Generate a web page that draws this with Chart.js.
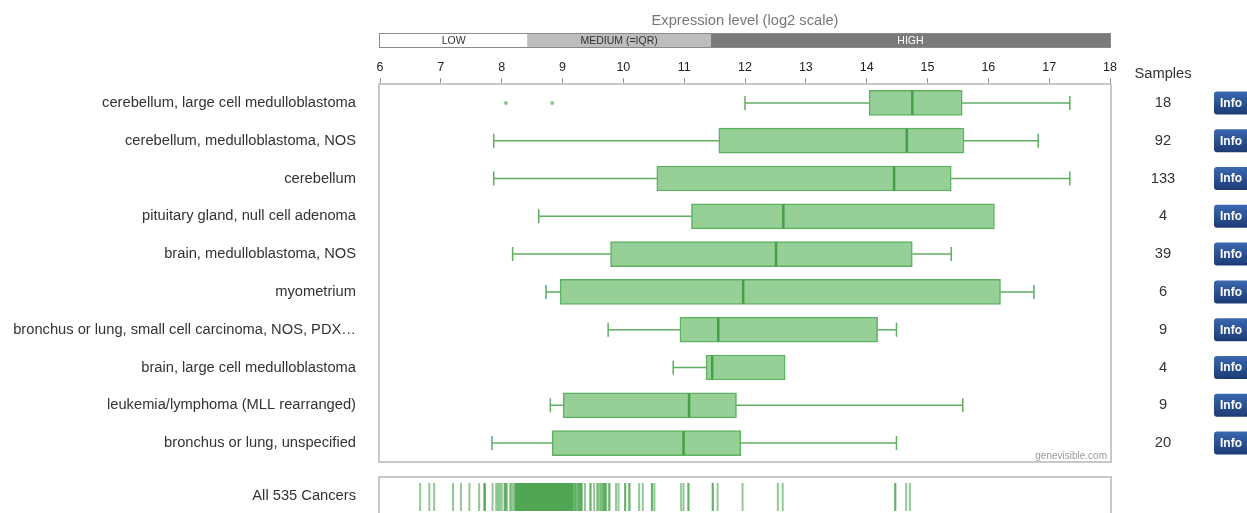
<!DOCTYPE html>
<html>
<head>
<meta charset="utf-8">
<title>Expression level by tissue</title>
<script src="https://cdn.jsdelivr.net/npm/chart.js@4/dist/chart.umd.min.js"></script>
<style>
  html, body { margin: 0; padding: 0; background: #fff; overflow: hidden; }
  #wrap { position: relative; width: 1247px; height: 513px; overflow: hidden; }
  #main { position: absolute; left: 0; top: 0; }
  #strip { position: absolute; left: 0; top: 470px; }
</style>
</head>
<body>
<div id="wrap">
  <canvas id="main" width="1247" height="470"></canvas>
  <canvas id="strip" width="1247" height="50"></canvas>
</div>
<script>
// Box plot data (log2 expression), one entry per tissue / cancer type
const categories = [
  'cerebellum, large cell medulloblastoma',
  'cerebellum, medulloblastoma, NOS',
  'cerebellum',
  'pituitary gland, null cell adenoma',
  'brain, medulloblastoma, NOS',
  'myometrium',
  'bronchus or lung, small cell carcinoma, NOS, PDX\u2026',
  'brain, large cell medulloblastoma',
  'leukemia/lymphoma (MLL rearranged)',
  'bronchus or lung, unspecified'
];
const whiskerLow  = [12.00, 7.87, 7.87, 8.61, 8.18, 8.73, 9.75, 10.82, 8.80, 7.84];
const q1          = [14.04, 11.57, 10.55, 11.12, 9.79, 8.96, 10.93, 11.36, 9.01, 8.83];
const median      = [14.75, 14.66, 14.45, 12.63, 12.51, 11.97, 11.56, 11.46, 11.08, 10.99];
const q3          = [15.57, 15.60, 15.39, 16.10, 14.75, 16.20, 14.18, 12.66, 11.86, 11.93];
const whiskerHigh = [17.34, 16.82, 17.34, 16.10, 15.39, 16.75, 14.49, 12.66, 15.58, 14.49];
const outliers    = [[8.07, 8.83], [], [], [], [], [], [], [], [], []];
const sampleCounts = [18, 92, 133, 4, 39, 6, 9, 4, 9, 20];

// Axis range and expression bands
const axisMin = 6;
const axisMax = 18;
const bandLabels = ['LOW', 'MEDIUM (=IQR)', 'HIGH'];
const bandEdges = [6, 8.42, 11.44, 18];

// Median expression of every cancer type (rug strip)
const allCancerMedians = [
  6.66, 6.81, 6.89, 7.20, 7.33, 7.47, 7.63, 7.72, 7.72, 7.72,
  7.85, 7.91, 7.94, 7.97, 8.00, 8.05, 8.05, 8.08, 8.08, 8.14, 8.16, 8.19,
  8.22, 8.23, 8.24, 8.25, 8.26, 8.27, 8.28, 8.29, 8.30, 8.31, 8.32, 8.33, 8.34, 8.35,
  8.36, 8.37, 8.38, 8.39, 8.40, 8.41, 8.42, 8.43, 8.44, 8.45, 8.46, 8.47, 8.48, 8.49,
  8.50, 8.51, 8.52, 8.53, 8.54, 8.55, 8.56, 8.57, 8.58, 8.59, 8.60, 8.61, 8.62, 8.63,
  8.64, 8.65, 8.66, 8.67, 8.68, 8.69, 8.70, 8.71, 8.72, 8.73, 8.74, 8.75, 8.76, 8.77,
  8.78, 8.79, 8.80, 8.81, 8.82, 8.83, 8.84, 8.85, 8.86, 8.87, 8.88, 8.89, 8.90, 8.91,
  8.92, 8.93, 8.94, 8.95, 8.96, 8.97, 8.98, 8.99, 9.00, 9.01, 9.02, 9.03, 9.04, 9.05,
  9.06, 9.07, 9.08, 9.09, 9.10, 9.11, 9.12, 9.13, 9.14, 9.15, 9.16, 9.17, 9.18,
  9.21, 9.21, 9.23, 9.26, 9.26, 9.28, 9.30, 9.30, 9.32,
  9.37, 9.46, 9.46, 9.52, 9.57, 9.59, 9.62, 9.64, 9.67, 9.67, 9.70, 9.70, 9.72,
  9.77, 9.77, 9.88, 9.92, 10.03, 10.03, 10.10, 10.10, 10.26, 10.32, 10.47, 10.47,
  10.51, 10.95, 10.99, 11.07, 11.07, 11.47, 11.47, 11.55, 11.96, 12.54, 12.62,
  14.47, 14.47, 14.65, 14.71
];

const FONT = "'Liberation Sans', Arial, sans-serif";
const GREEN = '#43a047';
const LABEL_SIZE = 14.7;

const boxWhiskers = {
  id: 'boxWhiskers',
  beforeDraw(chart) {
    const ctx = chart.ctx;
    const xs = chart.scales.x;
    ctx.save();
    // axis title
    ctx.fillStyle = '#777';
    ctx.font = LABEL_SIZE + 'px ' + FONT;
    ctx.textAlign = 'center';
    ctx.textBaseline = 'middle';
    const mid = (xs.getPixelForValue(axisMin) + xs.getPixelForValue(axisMax)) / 2;
    ctx.fillText('Expression level (log2 scale)', mid, 21);
    // expression bands
    const fills = ['#ffffff', '#bdbdbd', '#7a7a7a'];
    const texts = ['#333', '#333', '#fff'];
    const top = 33, h = 15;
    for (let i = 0; i < bandLabels.length; i++) {
      const a = xs.getPixelForValue(bandEdges[i]);
      const b = xs.getPixelForValue(bandEdges[i + 1]);
      ctx.fillStyle = fills[i];
      ctx.fillRect(a, top, b - a, h);
      ctx.fillStyle = texts[i];
      ctx.font = '10.5px ' + FONT;
      ctx.fillText(bandLabels[i], (a + b) / 2, top + h / 2 + 0.5);
    }
    ctx.strokeStyle = '#8a8a8a';
    ctx.lineWidth = 1;
    const l = xs.getPixelForValue(bandEdges[0]);
    const r = xs.getPixelForValue(bandEdges[bandEdges.length - 1]);
    ctx.strokeRect(l - 0.5, top + 0.5, r - l + 1, h - 1);
    ctx.restore();
  },
  afterDatasetsDraw(chart) {
    const ctx = chart.ctx;
    const xs = chart.scales.x;
    const ys = chart.scales.y;
    const area = chart.chartArea;
    ctx.save();
    for (let i = 0; i < categories.length; i++) {
      const y = ys.getPixelForValue(i);
      const pLow = xs.getPixelForValue(whiskerLow[i]);
      const pQ1 = xs.getPixelForValue(q1[i]);
      const pQ3 = xs.getPixelForValue(q3[i]);
      const pHigh = xs.getPixelForValue(whiskerHigh[i]);
      ctx.strokeStyle = 'rgba(67,160,71,0.85)';
      ctx.lineWidth = 1.5;
      if (whiskerLow[i] < q1[i]) {
        ctx.beginPath();
        ctx.moveTo(pLow, y); ctx.lineTo(pQ1, y);
        ctx.moveTo(pLow, y - 7); ctx.lineTo(pLow, y + 7);
        ctx.stroke();
      }
      if (whiskerHigh[i] > q3[i]) {
        ctx.beginPath();
        ctx.moveTo(pQ3, y); ctx.lineTo(pHigh, y);
        ctx.moveTo(pHigh, y - 7); ctx.lineTo(pHigh, y + 7);
        ctx.stroke();
      }
      // median
      const pMed = xs.getPixelForValue(median[i]);
      ctx.strokeStyle = GREEN;
      ctx.lineWidth = 2.5;
      ctx.beginPath();
      ctx.moveTo(pMed, y - 12); ctx.lineTo(pMed, y + 12);
      ctx.stroke();
      // outliers
      ctx.fillStyle = 'rgba(67,160,71,0.6)';
      for (const v of outliers[i]) {
        ctx.beginPath();
        ctx.arc(xs.getPixelForValue(v), y, 2, 0, Math.PI * 2);
        ctx.fill();
      }
      // sample counts
      ctx.fillStyle = '#333';
      ctx.font = LABEL_SIZE + 'px ' + FONT;
      ctx.textAlign = 'center';
      ctx.textBaseline = 'middle';
      ctx.fillText(String(sampleCounts[i]), 1163, y);
      // info button
      const bx = 1214, by = y - 11.5, bw = 36, bh = 23;
      const g = ctx.createLinearGradient(0, by, 0, by + bh);
      g.addColorStop(0, '#3a68b0');
      g.addColorStop(1, '#1c3b74');
      ctx.fillStyle = g;
      ctx.beginPath();
      ctx.roundRect(bx, by, bw, bh, 3);
      ctx.fill();
      ctx.fillStyle = '#fff';
      ctx.font = 'bold 12px ' + FONT;
      ctx.fillText('Info', bx + 17, y + 0.5);
    }
    // plot frame
    ctx.strokeStyle = '#c8c8c8';
    ctx.lineWidth = 2;
    ctx.strokeRect(area.left - 1, area.top, area.right - area.left + 2, area.bottom - area.top);
    // column header
    ctx.fillStyle = '#333';
    ctx.font = LABEL_SIZE + 'px ' + FONT;
    ctx.textAlign = 'center';
    ctx.textBaseline = 'middle';
    ctx.fillText('Samples', 1163, 74);
    // watermark
    ctx.fillStyle = '#999';
    ctx.font = '10px ' + FONT;
    ctx.textAlign = 'right';
    ctx.textBaseline = 'alphabetic';
    ctx.fillText('genevisible.com', area.right - 3, area.bottom - 3);
    ctx.restore();
  }
};

new Chart(document.getElementById('main'), {
  type: 'bar',
  data: {
    labels: categories,
    datasets: [{
      data: categories.map((_, i) => [q1[i], q3[i]]),
      backgroundColor: '#96d096',
      borderColor: 'rgba(76,168,80,0.9)',
      borderWidth: 1.5,
      borderSkipped: false,
      barThickness: 25
    }]
  },
  options: {
    indexAxis: 'y',
    responsive: false,
    animation: false,
    devicePixelRatio: 1,
    layout: { autoPadding: false, padding: { left: 0, right: 137, top: 0, bottom: 8 } },
    plugins: { legend: { display: false }, tooltip: { enabled: false } },
    scales: {
      x: {
        type: 'linear',
        position: 'top',
        min: axisMin,
        max: axisMax,
        afterFit(scale) { scale.height = 84; },
        ticks: { stepSize: 1, padding: 3, color: '#222', font: { size: 12.5, family: FONT } },
        grid: { drawOnChartArea: false, drawTicks: true, tickLength: 6, color: '#999' },
        border: { display: false }
      },
      y: {
        type: 'category',
        afterFit(scale) {
          scale.width = 380;
          scale.paddingTop = 0;
          scale.paddingBottom = 0;
        },
        ticks: { padding: 24, color: '#333', font: { size: LABEL_SIZE, family: FONT } },
        grid: { display: false, drawTicks: false },
        border: { display: false }
      }
    }
  },
  plugins: [boxWhiskers]
});

// Rug strip of all cancer medians
const stripFrame = {
  id: 'stripFrame',
  afterDraw(chart) {
    const ctx = chart.ctx;
    const a = chart.chartArea;
    const ys = chart.scales.y;
    ctx.save();
    ctx.strokeStyle = '#c8c8c8';
    ctx.lineWidth = 2;
    ctx.strokeRect(a.left - 1, a.top, a.right - a.left + 2, a.bottom - a.top);
    ctx.fillStyle = '#333';
    ctx.font = LABEL_SIZE + 'px ' + FONT;
    ctx.textAlign = 'right';
    ctx.textBaseline = 'middle';
    ctx.fillText('All 535 Cancers', 356, ys.getPixelForValue(0.5) - 1);
    ctx.restore();
  }
};

new Chart(document.getElementById('strip'), {
  type: 'scatter',
  data: {
    datasets: [{
      data: allCancerMedians.map(v => ({ x: v, y: 0.5 })),
      pointStyle: 'line',
      rotation: 90,
      radius: 14,
      borderWidth: 2,
      borderColor: 'rgba(67,160,71,0.58)',
      backgroundColor: 'rgba(67,160,71,0.58)'
    }]
  },
  options: {
    responsive: false,
    animation: false,
    devicePixelRatio: 1,
    layout: { autoPadding: false, padding: { left: 380, right: 137, top: 7, bottom: 3 } },
    plugins: { legend: { display: false }, tooltip: { enabled: false } },
    scales: {
      x: { type: 'linear', min: axisMin, max: axisMax, display: false },
      y: { type: 'linear', min: 0, max: 1, display: false }
    }
  },
  plugins: [stripFrame]
});
</script>
</body>
</html>
